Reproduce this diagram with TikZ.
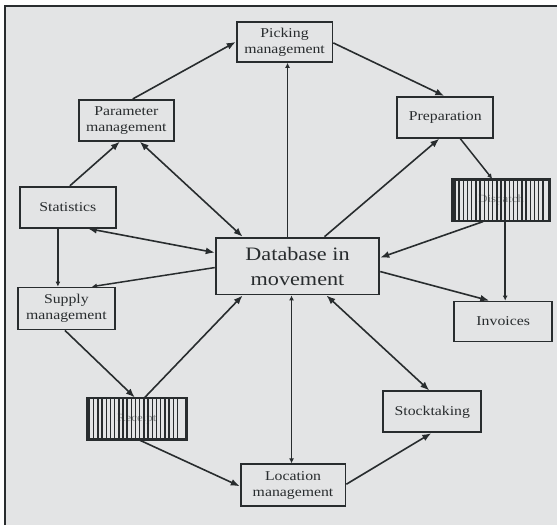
\documentclass[tikz,border=0pt]{standalone}
\usepackage{fontspec}
\setmainfont[FakeStretch=1.17]{Liberation Serif}
\usetikzlibrary{arrows.meta,calc}
\definecolor{paper}{RGB}{227,228,229}
\definecolor{ink}{RGB}{40,44,46}
\tikzset{
  box/.style={draw=ink, line width=1.8pt, fill=paper, inner sep=1pt, align=center,
    font=\fontsize{13.5}{16}\selectfont, text=ink},
  link/.style={draw=ink, line width=1.6pt, -{Latex[length=9pt,width=7pt]}},
  both/.style={draw=ink, line width=1.6pt, {Latex[length=9pt,width=7pt]}-{Latex[length=9pt,width=7pt]}},
  thin link/.style={draw=ink, line width=1.5pt, -{Latex[length=5pt,width=5pt]}},
  thin both/.style={draw=ink, line width=1.5pt, {Latex[length=5pt,width=5pt]}-{Latex[length=5pt,width=5pt]}},
}
% vertical bars laid over a box
\newcommand{\stripes}[1]{%
  \foreach \s in {0,...,21}
    \draw[ink, line width=1.4pt] ($(#1.south west)+(2.5+4.2*\s,0)$) -- ($(#1.north west)+(2.5+4.2*\s,0)$);
}
\begin{document}
\begin{tikzpicture}[x=1pt,y=-1pt]
  % paper and the frame's top and left edges
  \fill[white!97!paper] (0,0) rectangle (558,526);
  \fill[paper] (5,6) rectangle (558,526);
  \draw[ink, line width=1.8pt] (5,526) -- (5,6) -- (558,6);
  \useasboundingbox (0,0) rectangle (558,526);

  % boxes
  \node[box, minimum width=96pt, minimum height=40pt] (pick) at (285,42) {Picking\\management};
  \node[box, minimum width=95pt, minimum height=41pt] (param) at (126.5,120.5) {Parameter\\management};
  \node[box, minimum width=96pt, minimum height=41pt] (stats) at (68,207.5) {Statistics};
  \node[box, minimum width=96pt, minimum height=41pt] (prep) at (446,117.5) {Preparation};
  \node[box, minimum width=96pt, minimum height=41pt, font=\fontsize{11}{13}\selectfont, text=ink!60] (ship) at (502,200.5) {Dispatch};
  \node[box, minimum width=164pt, minimum height=57pt, font=\fontsize{19}{25}\selectfont] (db) at (298,266.5) {Database in\\movement};
  \node[box, minimum width=98pt, minimum height=40pt] (inv) at (504,322) {Invoices};
  \node[box, minimum width=97pt, minimum height=42pt] (supply) at (66.5,309) {Supply\\management};
  \node[box, minimum width=98pt, minimum height=41pt, font=\fontsize{11}{13}\selectfont, text=ink!60] (recv) at (137,419.5) {Receipt};
  \node[box, minimum width=105pt, minimum height=42pt] (loc) at (293.5,486) {Location\\management};
  \node[box, minimum width=98pt, minimum height=41pt] (stock) at (433,412.5) {Stocktaking};

  % striped boxes
  \stripes{ship}
  \stripes{recv}
  \draw[ink, line width=1.8pt] (ship.south west) rectangle (ship.north east);
  \draw[ink, line width=1.8pt] (recv.south west) rectangle (recv.north east);

  % connectors
  \draw[link] ([xshift=6.5pt]param.north) -- (pick.west);
  \draw[link] ([xshift=2pt]stats.north) -- ([xshift=-6.5pt]param.south);
  \draw[both] ([xshift=13.5pt]param.south) -- ([xshift=-55pt]db.north);
  \draw[both] ([xshift=20pt]stats.south) -- ([yshift=13.5pt]db.west);
  \draw[thin link] ([xshift=-10pt]stats.south) -- ([xshift=-8.5pt]supply.north);
  \draw[thin link] ([yshift=-1.5pt]db.west) -- ([xshift=25.5pt]supply.north);
  \draw[link] ([yshift=-1pt]pick.east) -- ([xshift=-1pt]prep.north);
  \draw[thin link] ([xshift=-10pt]db.north) -- ([xshift=3pt]pick.south);
  \draw[link] ([xshift=27pt]db.north) -- ([xshift=-6pt]prep.south);
  \draw[thin link] ([xshift=15pt]prep.south) -- ([xshift=-9pt]ship.north);
  \draw[link] ([xshift=-18pt]ship.south) -- ([yshift=8.5pt]db.east);
  \draw[thin link] ([xshift=4pt]ship.south) -- ([xshift=2pt]inv.north);
  \draw[link] ([yshift=-5.5pt]db.east) -- ([xshift=-14pt]inv.north);
  \draw[both] ([xshift=29pt]db.south) -- ([xshift=-3pt]stock.north);
  \draw[link] ([yshift=1pt]loc.east) -- ([xshift=-1pt]stock.south);
  \draw[thin both] ([xshift=-6pt]db.south) -- ([xshift=-1.5pt]loc.north);
  \draw[link] ([xshift=-1.5pt]supply.south) -- ([xshift=-2pt]recv.north);
  \draw[link] ([xshift=8pt]recv.north) -- ([xshift=-55pt]db.south);
  \draw[link] ([xshift=3pt]recv.south) -- ([yshift=-1pt]loc.west);
\end{tikzpicture}
\end{document}
